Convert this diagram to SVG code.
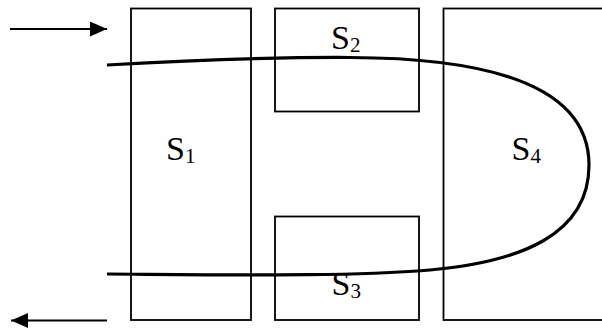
<svg xmlns="http://www.w3.org/2000/svg" width="602" height="329" viewBox="0 0 602 329">
<style>
.box{fill:none;stroke:#000;stroke-width:1.8}
.lbl{font-family:"Liberation Serif","Times New Roman",serif;font-size:34px;fill:#000}
.sub{font-size:21px}
.arr{fill:none;stroke:#000;stroke-width:1.8}
.flow{fill:none;stroke:#000;stroke-width:3.2}
</style>
<defs>
<marker id="ah" markerUnits="userSpaceOnUse" markerWidth="17" markerHeight="15" refX="17" refY="7.5" orient="auto">
<path d="M0,0 L17,7.5 L0,15 Z" fill="#000"/>
</marker>
</defs>
<rect width="602" height="329" fill="#fff"/>
<g id="s1">
<rect class="box" x="131" y="8.5" width="120" height="311.5"/>
<text class="lbl" x="166" y="160">S<tspan class="sub" dy="3">1</tspan></text>
</g>
<g id="s2">
<rect class="box" x="275" y="8.5" width="144" height="103"/>
<text class="lbl" x="331" y="49">S<tspan class="sub" dy="3">2</tspan></text>
</g>
<g id="s3">
<rect class="box" x="275" y="216.5" width="144" height="103.5"/>
<text class="lbl" x="331.5" y="295">S<tspan class="sub" dy="3">3</tspan></text>
</g>
<g id="s4">
<rect class="box" x="443.5" y="8.5" width="200" height="311.5"/>
<text class="lbl" x="511.5" y="160">S<tspan class="sub" dy="3">4</tspan></text>
</g>
<g id="connectors">
<line class="arr" x1="10" y1="29" x2="107" y2="29" marker-end="url(#ah)"/>
<line class="arr" x1="107" y1="320.5" x2="11" y2="320.5" marker-end="url(#ah)"/>
<path class="flow" d="M107,65 Q250,57 350,57.5 C515,58 589,97 589,165 C589,235 520,262 430,270 C350,276.5 250,275 107,274"/>
</g>
</svg>
